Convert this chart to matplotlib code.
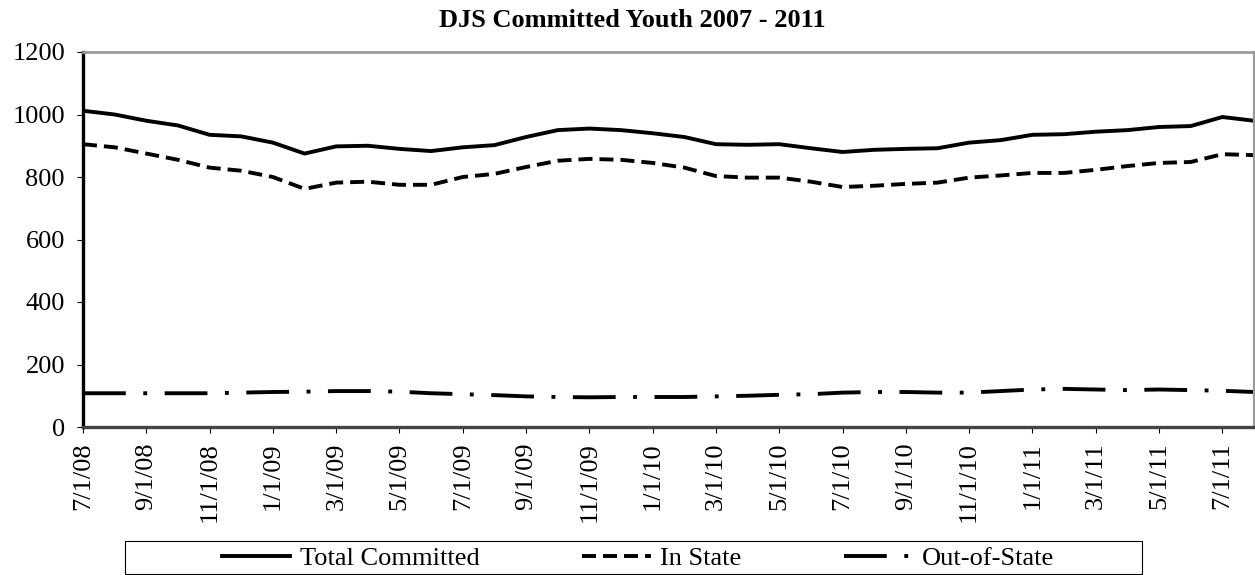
import numpy as np, matplotlib
matplotlib.use("Agg")
import matplotlib.pyplot as plt
from matplotlib.patches import Rectangle

plt.rcParams["font.family"] = ["Liberation Serif", "DejaVu Serif"]

months = ["7/1/08", "8/1/08", "9/1/08", "10/1/08", "11/1/08", "12/1/08",
          "1/1/09", "2/1/09", "3/1/09", "4/1/09", "5/1/09", "6/1/09",
          "7/1/09", "8/1/09", "9/1/09", "10/1/09", "11/1/09", "12/1/09",
          "1/1/10", "2/1/10", "3/1/10", "4/1/10", "5/1/10", "6/1/10",
          "7/1/10", "8/1/10", "9/1/10", "10/1/10", "11/1/10", "12/1/10",
          "1/1/11", "2/1/11", "3/1/11", "4/1/11", "5/1/11", "6/1/11",
          "7/1/11", "8/1/11"]
total = [1012, 1000, 980, 965, 935, 930, 910, 875, 898, 900, 890, 883,
         895, 902, 928, 950, 955, 950, 940, 928, 905, 903, 905, 892,
         880, 887, 890, 892, 910, 918, 935, 937, 945, 950, 960, 963,
         992, 980]
in_state = [905, 895, 875, 855, 830, 820, 800, 762, 782, 785, 775, 775,
            800, 810, 832, 852, 858, 855, 845, 830, 803, 798, 798, 785,
            768, 772, 778, 782, 798, 805, 813, 813, 823, 835, 845, 848,
            873, 870]
out_state = [108, 108, 108, 108, 108, 110, 112, 113, 115, 115, 113, 108,
             105, 102, 98, 96, 95, 96, 96, 96, 98, 100, 103, 105,
             110, 112, 112, 110, 110, 115, 120, 122, 120, 118, 120, 118,
             116, 112]

W, H = 1255, 575
x = np.arange(len(months))
fig = plt.figure(figsize=(W / 100, H / 100), dpi=100)
ax = fig.add_axes([83 / W, 1 - 427 / H, (1254 - 83) / W, (427 - 52) / H])

l1, = ax.plot(x, total, color="black", lw=2.8)
l2, = ax.plot(x, in_state, color="black", lw=2.8, ls=(0, (3.6, 1.8)))
l3, = ax.plot(x, out_state, color="black", lw=2.8, ls=(0, (11, 4.5, 1, 4.5)))

ax.set_xlim(0, len(months) - 1)
ax.set_ylim(0, 1200)
ax.set_yticks(range(0, 1201, 200))
ax.set_xticks(x[::2])
ax.set_xticklabels(months[::2], rotation=90, fontsize=19)
ax.tick_params(axis="y", labelsize=19, length=4, width=0.8, pad=9)
ax.tick_params(axis="x", length=4, width=0.8, pad=7)
ax.spines["left"].set_linewidth(2.4)
ax.spines["bottom"].set_linewidth(2.4)
ax.spines["bottom"].set_color("#444444")
ax.spines["top"].set_color("#999999")
ax.spines["top"].set_linewidth(2.0)
ax.spines["right"].set_color("#999999")
ax.spines["right"].set_linewidth(1.6)

fig.text(632 / W, 1 - 27 / H, "DJS Committed Youth 2007 - 2011", ha="center",
         va="baseline", fontsize=19, fontweight="bold")

# legend box, partly cut at the bottom edge
fig.patches.append(Rectangle((125 / W, 1 - 574 / H), (1142 - 125) / W, (574 - 541) / H,
                             transform=fig.transFigure, fill=False, ec="black", lw=0.8))
leg = fig.legend([l1, l2, l3], ["Total Committed", "In State", "Out-of-State"],
                 loc="center", bbox_to_anchor=(638 / W, 1 - 558 / H),
                 ncol=3, fontsize=19, frameon=False,
                 handlelength=2.6, handletextpad=0.35, borderpad=0.0,
                 columnspacing=3.9)

fig.savefig("out.png", dpi=100)
